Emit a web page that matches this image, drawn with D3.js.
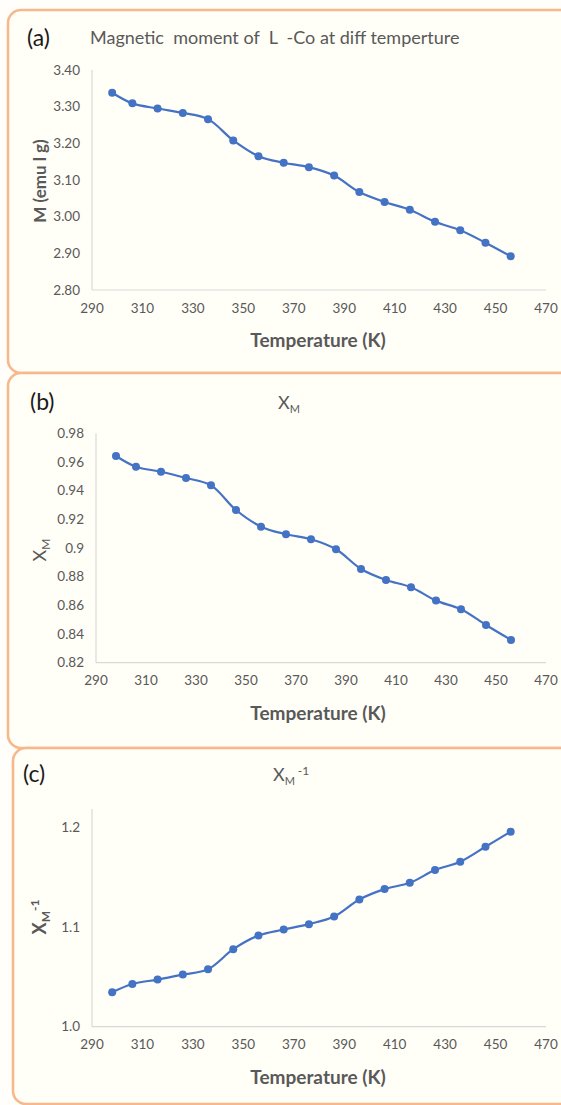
<!DOCTYPE html>
<html>
<head>
<meta charset="utf-8">
<script src="https://cdn.jsdelivr.net/npm/d3@7"></script>
<style>
  html, body { margin: 0; padding: 0; background: #fffefa; }
  svg { display: block; }
  text { font-family: Lato, "Open Sans", sans-serif; }
</style>
</head>
<body>
<svg id="chart" width="561" height="1105"></svg>
<script>
// ---- Data ----
const temperatures = [298, 306, 316, 326, 336, 346, 356, 366, 376, 386, 396, 406, 416, 426, 436, 446, 456];
const magneticMoment = [3.338, 3.309, 3.295, 3.283, 3.266, 3.208, 3.165, 3.147, 3.135, 3.112, 3.067, 3.040, 3.019, 2.986, 2.963, 2.929, 2.892];
const chiM = [0.9642, 0.9567, 0.9532, 0.9488, 0.9437, 0.9265, 0.9149, 0.9096, 0.9061, 0.8991, 0.8854, 0.8777, 0.8726, 0.8633, 0.8573, 0.8463, 0.8359];
const chiMInv = [1.0345, 1.0428, 1.0472, 1.0522, 1.0575, 1.0776, 1.0913, 1.0973, 1.1027, 1.1103, 1.1274, 1.1378, 1.1441, 1.1569, 1.1652, 1.1802, 1.1953];
const xTicks = [290, 310, 330, 350, 370, 390, 410, 430, 450, 470];
const yTicksA = [2.8, 2.9, 3.0, 3.1, 3.2, 3.3, 3.4];
const yTicksB = [0.82, 0.84, 0.86, 0.88, 0.9, 0.92, 0.94, 0.96, 0.98];
const yTicksC = [1.0, 1.1, 1.2];

const svg = d3.select("#chart");
const grey = "#595959";
const blue = "#4472C4";
const border = "#f7b88b";

// panel boxes
const boxes = [
  {x: 8, y: 10, w: 620, h: 363},
  {x: 8, y: 373, w: 620, h: 375},
  {x: 13, y: 748, w: 620, h: 356}
];
svg.selectAll("rect.box").data(boxes).enter().append("rect")
  .attr("class", "box")
  .attr("x", d => d.x).attr("y", d => d.y)
  .attr("width", d => d.w).attr("height", d => d.h)
  .attr("rx", 13).attr("ry", 13)
  .attr("fill", "#fffef7")
  .attr("stroke", border).attr("stroke-width", 2.6);

function drawPanel(cfg) {
  const x = d3.scaleLinear().domain([290, 470]).range([cfg.x0, cfg.x1]);
  const y = d3.scaleLinear().domain(cfg.yDomain).range([cfg.yBottom, cfg.yTop]);
  const g = svg.append("g");

  // axis lines
  g.append("line").attr("x1", cfg.x0).attr("x2", cfg.x0)
    .attr("y1", cfg.yTop).attr("y2", cfg.yBottom)
    .attr("stroke", "#d9d9d9").attr("stroke-width", 1.2);
  g.append("line").attr("x1", cfg.x0).attr("x2", cfg.x1)
    .attr("y1", cfg.yBottom).attr("y2", cfg.yBottom)
    .attr("stroke", "#d9d9d9").attr("stroke-width", 1.2);

  // y tick labels
  g.selectAll("text.yt").data(cfg.yTicks).enter().append("text")
    .attr("x", cfg.x0 - 12).attr("y", d => y(d)).attr("dy", "0.35em")
    .attr("text-anchor", "end").attr("fill", grey).attr("font-size", 13.5)
    .text(cfg.yFmt);
  // x tick labels
  g.selectAll("text.xt").data(xTicks).enter().append("text")
    .attr("x", d => x(d)).attr("y", cfg.yBottom + 18).attr("dy", "0.35em")
    .attr("text-anchor", "middle").attr("fill", grey).attr("font-size", 13.5)
    .text(d => d);

  // line
  const pts = temperatures.map((t, i) => [t, cfg.values[i]]);
  g.append("path").datum(pts)
    .attr("fill", "none").attr("stroke", blue).attr("stroke-width", 2.2)
    .attr("d", d3.line().x(d => x(d[0])).y(d => y(d[1])).curve(d3.curveCatmullRom.alpha(0.5)));
  g.selectAll("circle").data(pts).enter().append("circle")
    .attr("cx", d => x(d[0])).attr("cy", d => y(d[1])).attr("r", 4)
    .attr("fill", blue);

  // x axis title
  g.append("text").attr("x", 318).attr("y", cfg.xTitleY)
    .attr("text-anchor", "middle").attr("dy", "0.35em")
    .attr("fill", grey).attr("font-size", 19).attr("font-weight", "bold")
    .text("Temperature (K)");
  return g;
}

// Panel (a)
drawPanel({x0: 92, x1: 546, yDomain: [2.8, 3.4], yTop: 70, yBottom: 290,
  yTicks: yTicksA, yFmt: d3.format(".2f"), values: magneticMoment, xTitleY: 340});
svg.append("text").attr("x", 27).attr("y", 46).attr("font-size", 23).attr("fill", "#1a1a1a").text("(a)");
svg.append("text").attr("x", 90).attr("y", 44).attr("font-size", 18).attr("fill", grey)
  .attr("xml:space", "preserve").style("white-space", "pre")
  .text("Magnetic  moment of  L  -Co at diff temperture");
svg.append("text").attr("transform", "translate(46,181) rotate(-90)")
  .attr("text-anchor", "middle").attr("font-size", 17).attr("font-weight", "bold").attr("fill", grey)
  .text("M (emu l g)");

// Panel (b)
drawPanel({x0: 96, x1: 546, yDomain: [0.82, 0.98], yTop: 433.3, yBottom: 662.7,
  yTicks: yTicksB, yFmt: d => d3.format(".2f")(d).replace(/0$/, ""), values: chiM, xTitleY: 713});
svg.append("text").attr("x", 30).attr("y", 410).attr("font-size", 23).attr("fill", "#1a1a1a").text("(b)");
const tB = svg.append("text").attr("x", 278).attr("y", 409).attr("font-size", 18).attr("fill", grey);
tB.append("tspan").text("X");
tB.append("tspan").attr("dy", 4).attr("font-size", 11).text("M");
const lB = svg.append("text").attr("transform", "translate(46,550) rotate(-90)")
  .attr("text-anchor", "middle").attr("font-size", 18).attr("fill", grey);
lB.append("tspan").text("X");
lB.append("tspan").attr("dy", 4).attr("font-size", 12).text("M");

// Panel (c)
drawPanel({x0: 92, x1: 546, yDomain: [1.0, 1.218], yTop: 809, yBottom: 1026.7,
  yTicks: yTicksC, yFmt: d3.format(".1f"), values: chiMInv, xTitleY: 1077});
svg.append("text").attr("x", 23).attr("y", 782).attr("font-size", 23).attr("fill", "#1a1a1a").text("(c)");
const tC = svg.append("text").attr("x", 273).attr("y", 781).attr("font-size", 18).attr("fill", grey)
  .attr("xml:space", "preserve").style("white-space", "pre");
tC.append("tspan").text("X");
tC.append("tspan").attr("dy", 4).attr("font-size", 11).text("M ");
tC.append("tspan").attr("dy", -10).attr("font-size", 12).text("-1");
const lC = svg.append("text").attr("transform", "translate(46,917) rotate(-90)")
  .attr("text-anchor", "middle").attr("font-size", 18).attr("font-weight", "bold").attr("fill", grey);
lC.append("tspan").text("X");
lC.append("tspan").attr("dy", 4).attr("font-size", 12).text("M");
lC.append("tspan").attr("dy", -11).attr("font-size", 12).text("-1");
</script>
</body>
</html>
